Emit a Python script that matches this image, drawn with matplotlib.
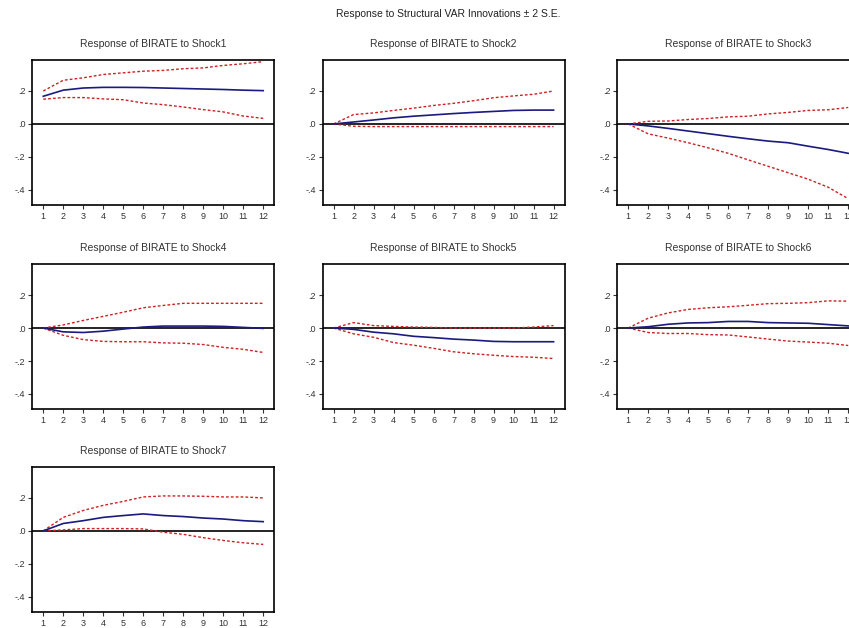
import matplotlib.pyplot as plt
import matplotlib as mpl

mpl.rcParams.update({
    "font.family": ["Liberation Sans", "DejaVu Sans"],
    "font.size": 7,
    "axes.linewidth": 1.2,
})

# horizon (periods)
periods = list(range(1, 13))

# impulse responses of BIRATE to each shock, with +/- 2 S.E. bands
resp_1 = [0.168, 0.205, 0.218, 0.222, 0.222, 0.221, 0.218, 0.215, 0.212, 0.209, 0.205, 0.202]
upper_1 = [0.200, 0.265, 0.280, 0.300, 0.310, 0.320, 0.325, 0.335, 0.340, 0.355, 0.365, 0.378]
lower_1 = [0.150, 0.160, 0.160, 0.152, 0.147, 0.127, 0.117, 0.103, 0.087, 0.073, 0.048, 0.034]

resp_2 = [0.0, 0.012, 0.024, 0.037, 0.047, 0.055, 0.063, 0.070, 0.076, 0.082, 0.084, 0.084]
upper_2 = [0.0, 0.057, 0.067, 0.082, 0.096, 0.112, 0.125, 0.141, 0.159, 0.170, 0.180, 0.200]
lower_2 = [0.0, -0.014, -0.016, -0.016, -0.016, -0.016, -0.016, -0.016, -0.016, -0.016, -0.016, -0.016]

resp_3 = [0.0, -0.012, -0.027, -0.043, -0.059, -0.075, -0.090, -0.104, -0.114, -0.135, -0.155, -0.178]
upper_3 = [0.0, 0.016, 0.018, 0.027, 0.033, 0.043, 0.047, 0.061, 0.070, 0.082, 0.086, 0.100]
lower_3 = [0.0, -0.060, -0.086, -0.114, -0.145, -0.178, -0.218, -0.257, -0.296, -0.335, -0.384, -0.453]

resp_4 = [0.0, -0.023, -0.027, -0.019, -0.006, 0.006, 0.012, 0.012, 0.012, 0.010, 0.004, -0.002]
upper_4 = [0.0, 0.019, 0.046, 0.071, 0.096, 0.123, 0.137, 0.150, 0.150, 0.150, 0.150, 0.150]
lower_4 = [0.0, -0.044, -0.070, -0.081, -0.083, -0.083, -0.090, -0.092, -0.100, -0.117, -0.129, -0.148]

resp_5 = [0.0, -0.008, -0.025, -0.035, -0.050, -0.058, -0.067, -0.073, -0.081, -0.083, -0.083, -0.083]
upper_5 = [0.0, 0.033, 0.015, 0.010, 0.006, 0.004, 0.0, 0.0, 0.0, 0.0, 0.006, 0.015]
lower_5 = [0.0, -0.035, -0.056, -0.088, -0.104, -0.123, -0.144, -0.156, -0.165, -0.173, -0.177, -0.185]

resp_6 = [0.0, 0.008, 0.023, 0.031, 0.033, 0.040, 0.040, 0.033, 0.031, 0.029, 0.021, 0.013]
upper_6 = [0.0, 0.060, 0.092, 0.113, 0.123, 0.129, 0.138, 0.148, 0.150, 0.154, 0.165, 0.163]
lower_6 = [0.0, -0.027, -0.033, -0.033, -0.040, -0.042, -0.054, -0.067, -0.079, -0.085, -0.092, -0.106]

resp_7 = [0.0, 0.045, 0.062, 0.082, 0.093, 0.103, 0.093, 0.087, 0.078, 0.072, 0.062, 0.056]
upper_7 = [0.0, 0.082, 0.124, 0.155, 0.179, 0.206, 0.212, 0.212, 0.210, 0.206, 0.206, 0.200]
lower_7 = [0.0, 0.006, 0.014, 0.014, 0.014, 0.012, -0.008, -0.021, -0.041, -0.058, -0.072, -0.082]

responses = [resp_1, resp_2, resp_3, resp_4, resp_5, resp_6, resp_7]
uppers = [upper_1, upper_2, upper_3, upper_4, upper_5, upper_6, upper_7]
lowers = [lower_1, lower_2, lower_3, lower_4, lower_5, lower_6, lower_7]
titles = [f"Response of BIRATE to Shock{i}" for i in range(1, 8)]

ytick_vals = [-0.4, -0.2, 0.0, 0.2]
ytick_labels = ["-.4", "-.2", ".0", ".2"]

# axes placement in figure fractions: 3 columns, 3 rows
col_left = [0.038, 0.380, 0.727]
row_bottom = [0.674, 0.349, 0.026]
ax_w, ax_h = 0.285, 0.231

fig = plt.figure(figsize=(8.49, 6.28), dpi=100)
fig.text(0.528, 0.978, "Response to Structural VAR Innovations \u00b1 2 S.E.",
         ha="center", va="center", fontsize=7.5, color="#222222")

for k in range(7):
    r, c = divmod(k, 3)
    ax = fig.add_axes([col_left[c], row_bottom[r], ax_w, ax_h])
    ax.axhline(0, color="black", linewidth=1.2, zorder=1)
    ax.plot(periods, uppers[k], color="#cc2222", linestyle=(0, (2, 1.5)), linewidth=1.0)
    ax.plot(periods, lowers[k], color="#cc2222", linestyle=(0, (2, 1.5)), linewidth=1.0)
    ax.plot(periods, responses[k], color="#1a1a80", linewidth=1.2)
    ax.set_xlim(0.45, 12.55)
    ax.set_ylim(-0.49, 0.39)
    ax.set_xticks(periods)
    ax.set_xticklabels([str(p) for p in periods])
    ax.set_yticks(ytick_vals)
    ax.set_yticklabels(ytick_labels)
    ax.tick_params(axis="both", direction="out", length=3, width=0.8,
                   labelsize=6.5, pad=2, colors="#333333")
    ax.set_title(titles[k], fontsize=7.5, pad=9, color="#333333")

fig.savefig("out.png", dpi=100)
